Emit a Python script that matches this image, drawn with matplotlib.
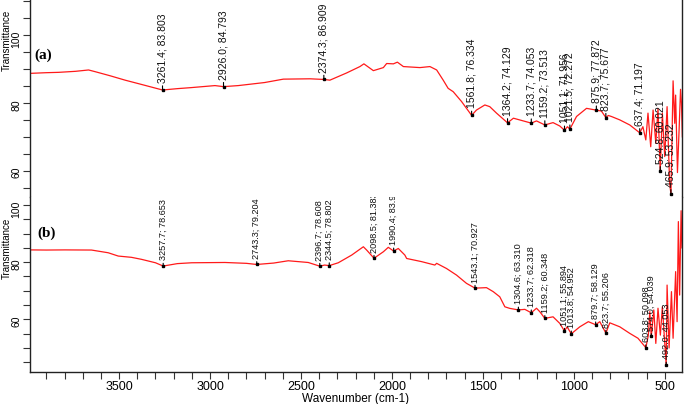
import matplotlib
matplotlib.use("Agg")
from matplotlib import pyplot as plt
from matplotlib.ticker import MultipleLocator, FixedLocator

plt.rcParams['font.family'] = ['Liberation Sans', 'DejaVu Sans']

# spectrum (a)
wn_a = [3989, 3900, 3833, 3740, 3668, 3632, 3550, 3467, 3360, 3261.4, 3180, 3105,
        2973, 2926.0, 2845, 2700, 2597, 2450, 2374.3, 2341, 2250, 2176, 2154, 2102,
        2047, 2029, 1992, 1970, 1937, 1846, 1791, 1754, 1718, 1691, 1663, 1617,
        1561.8, 1535, 1489, 1462, 1425, 1364.2, 1332, 1233.7, 1205, 1159.2, 1114,
        1077, 1051.1, 1035, 1021.5, 985, 930, 875.9, 848, 823.7, 810, 793, 747, 692,
        637.4, 620, 604, 592, 577, 564, 549, 537, 524.8, 513, 500, 487, 473, 465.9,
        454, 445, 440, 430, 421, 413, 408, 403]
t_a = [88.7, 88.9, 89.0, 89.3, 89.7, 89.2, 88.0, 86.7, 85.2, 83.803, 84.2, 84.5,
       85.1, 84.793, 85.1, 86.0, 87.0, 87.1, 86.909, 86.7, 88.8, 90.7, 91.5, 89.5,
       90.4, 91.6, 91.5, 92.0, 90.7, 90.4, 90.7, 89.7, 86.7, 84.3, 83.3, 80.4,
       76.334, 77.9, 79.4, 78.9, 77.0, 74.129, 75.5, 74.053, 74.7, 73.513, 74.2,
       73.2, 71.956, 73.0, 72.272, 76.0, 78.4, 77.872, 77.6, 75.677, 76.3, 76.0, 75.0, 73.5,
       71.197, 73.0, 69.1, 77.0, 67.1, 77.9, 68.1, 78.4, 60.021, 77.0, 64.2, 78.9, 56.4, 53.232,
       86.5, 74.0, 82.3, 59.5, 72.0, 84.0, 79.9, 70.0]

# spectrum (b)
wn_b = [3989, 3900, 3800, 3652, 3560, 3505, 3432, 3377, 3300, 3257.7, 3180, 3101,
        2918, 2800, 2743.3, 2650, 2570, 2460, 2396.7, 2370, 2344.5, 2295, 2221, 2157,
        2139, 2098.5, 2047, 2020, 1990.4, 1965, 1929, 1919, 1837, 1764, 1754, 1700,
        1645, 1590, 1543.1, 1480, 1443, 1407, 1379, 1352, 1304.6, 1269, 1233.7, 1205,
        1187, 1159.2, 1114, 1077, 1051.1, 1037, 1013.8, 967, 920, 879.7, 857, 823.7,
        802, 747, 692, 647, 603.8, 590, 582, 574.0, 560, 549, 537, 524, 513, 492.0,
        487, 476, 463, 454, 440, 432, 425, 418, 410, 405]
t_b = [84.3, 84.25, 84.3, 84.25, 83.3, 82.15, 81.7, 81.0, 79.8, 78.653, 79.5, 79.8,
       79.9, 79.6, 79.204, 79.7, 80.5, 79.9, 78.608, 79.0, 78.802, 79.8, 82.5, 85.4,
       84.25, 81.38, 83.65, 85.2, 83.9, 84.8, 82.5, 81.3, 80.2, 79.0, 79.6, 77.8,
       75.5, 72.6, 70.927, 71.1, 69.7, 67.9, 64.4, 63.85, 63.310, 63.5, 62.318, 63.9,
       62.7, 60.348, 60.9, 58.6, 55.894, 57.4, 54.952, 57.4, 59.2, 58.129, 59.2, 55.206,
       58.8, 57.4, 55.1, 53.4, 50.098, 54.5, 62.7, 54.039, 63.3, 51.6, 63.9, 54.5, 64.4, 44.053,
       72.0, 50.0, 69.7, 53.4, 76.7, 59.2, 94.2, 68.5, 98.0, 85.0]

# labelled peaks
peaks_a_wn = [3261.4, 2926.0, 2374.3, 1561.8, 1364.2, 1233.7, 1159.2, 1051.1, 1021.5,
              875.9, 823.7, 637.4, 524.8, 465.9]
peaks_a_t = [83.803, 84.793, 86.909, 76.334, 74.129, 74.053, 73.513, 71.956, 72.272,
             77.872, 75.677, 71.197, 60.021, 53.232]
peaks_b_wn = [3257.7, 2743.3, 2396.7, 2344.5, 2098.5, 1990.4, 1543.1, 1304.6, 1233.7,
              1159.2, 1051.1, 1013.8, 879.7, 823.7, 603.8, 574.0, 492.0]
peaks_b_t = [78.653, 79.204, 78.608, 78.802, 81.383, 83.962, 70.927, 63.310, 62.318,
             60.348, 55.894, 54.952, 58.129, 55.206, 50.098, 54.039, 44.053]

fig = plt.figure(figsize=(6.85, 4.04), dpi=100)
ax1 = fig.add_axes([30/685, 207/404, 652/685, 197/404])
ax2 = fig.add_axes([30/685, 32/404, 652/685, 175/404])

def style(ax, bottom):
    ax.set_xlim(3990, 405)
    ax.spines['top'].set_visible(False)
    ax.spines['bottom'].set_visible(bottom)
    for s in ax.spines.values():
        s.set_linewidth(1.0)
        s.set_color('#222222')
    ax.yaxis.set_major_locator(FixedLocator([60, 80, 100]))
    ax.yaxis.set_minor_locator(MultipleLocator(5))
    ax.tick_params(axis='y', which='both', direction='out', length=5, width=0.8,
                   labelsize=7.5, labelrotation=90, pad=1, color='#333333')
    if bottom:
        ax.xaxis.set_major_locator(MultipleLocator(500))
        ax.xaxis.set_minor_locator(MultipleLocator(100))
        ax.tick_params(axis='x', which='both', direction='out', length=5, width=0.8,
                       labelsize=9, pad=1.5, color='#333333')
        ax.set_xticks([3500, 3000, 2500, 2000, 1500, 1000, 500])
        ax.set_xlabel('Wavenumber (cm-1)', fontsize=8.5, labelpad=0)
    else:
        ax.tick_params(axis='x', which='both', bottom=False, labelbottom=False)

def label_peaks(ax, pw, pt, size, gap):
    ax.plot(pw, pt, 's', ms=1.7, color='black', zorder=3)
    for w, t in zip(pw, pt):
        ax.annotate('%.1f; %.3f' % (w, t), xy=(w, t), xytext=(0, gap),
                    textcoords='offset points', rotation=90, ha='center', va='bottom',
                    fontsize=size, color='#111111', clip_on=True,
                    arrowprops=dict(arrowstyle='-', lw=0.8, color='black',
                                    shrinkA=0, shrinkB=0))

ax1.plot(wn_a, t_a, color='#ff1a1a', lw=0.9)
ax1.set_ylim(52.3, 110.3)
style(ax1, False)
label_peaks(ax1, peaks_a_wn, peaks_a_t, 7.5, 5)
ax1.text(0.007, 0.72, '(a)', transform=ax1.transAxes, fontsize=11, fontweight='bold',
         family='Liberation Serif', va='center')

ax2.plot(wn_b, t_b, color='#ff1a1a', lw=0.9)
ax2.set_ylim(41.6, 102.8)
style(ax2, True)
label_peaks(ax2, peaks_b_wn, peaks_b_t, 6.6, 4)
ax2.text(0.012, 0.79, '(b)', transform=ax2.transAxes, fontsize=11, fontweight='bold',
         family='Liberation Serif', va='center')

fig.text(6.5/685, 1 - 40/404, 'Transmittance', rotation=90, ha='center', va='center', fontsize=7)
fig.text(6.5/685, 1 - 248/404, 'Transmittance', rotation=90, ha='center', va='center', fontsize=7)

fig.savefig('out.png', dpi=100)
